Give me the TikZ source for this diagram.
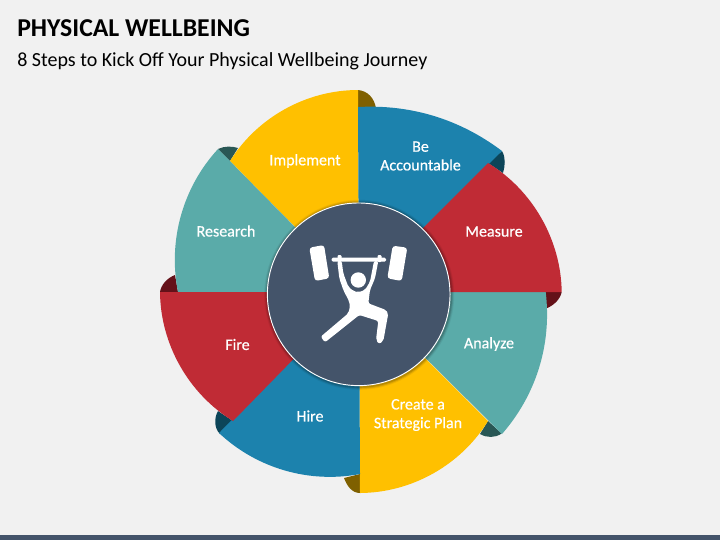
\documentclass[tikz,border=0pt]{standalone}
\usepackage{fontspec}
\setmainfont{Carlito}
\newfontfamily\labelfont[FakeBold=0.5]{Carlito}
\definecolor{pageback}{HTML}{F1F1F1}
\definecolor{slate}{HTML}{44546A}
\definecolor{gold}{HTML}{FFC000}
\definecolor{golddark}{HTML}{7F6000}
\definecolor{ocean}{HTML}{1C82AD}
\definecolor{oceandark}{HTML}{0C4559}
\definecolor{crimson}{HTML}{C02B35}
\definecolor{crimsondark}{HTML}{641119}
\definecolor{teal2}{HTML}{5AABA9}
\definecolor{tealdark}{HTML}{295755}
\tikzset{
  steplabel/.style={text=white, font=\labelfont\fontsize{12}{14}\selectfont, align=center, inner sep=0pt},
  iconpart/.style={fill=white, draw=none}
}

\begin{document}
\begin{tikzpicture}[x=0.75pt, y=-0.75pt]
  \useasboundingbox (0, 0) rectangle (720, 540);
  \fill[pageback] (0, 0) rectangle (720, 540);
  \fill[slate] (0, 535) rectangle (720, 540);

  % titles
  \node[anchor=base west, inner sep=0pt, font=\bfseries\fontsize{19.3}{23}\selectfont] (title) at (17, 36) {PHYSICAL WELLBEING};
  \node[anchor=base west, inner sep=0pt, font=\fontsize{15}{18}\selectfont] (subtitle) at (17, 66) {8 Steps to Kick Off Your Physical Wellbeing Journey};

  % dark tabs behind the petals
  \fill[golddark] (358, 90) .. controls (368, 91) and (374, 98) .. (376, 108) -- (358, 108) -- cycle;
  \fill[oceandark] (502, 151) .. controls (506, 158) and (505, 166) .. (503, 173) -- (488, 163) -- cycle;
  \fill[crimsondark] (561.7, 292) .. controls (560, 300) and (553, 306) .. (545, 309) -- (541, 292) -- cycle;
  \fill[tealdark] (501.7, 433.5) .. controls (495, 438) and (487, 438) .. (480, 434) -- (488, 421) -- cycle;
  \fill[golddark] (360, 493) .. controls (352, 493) and (347, 486) .. (344, 478) -- (360, 474) -- cycle;
  \fill[oceandark] (220, 434) .. controls (214, 428) and (214, 418) .. (218, 411) -- (233, 421) -- cycle;
  \fill[crimsondark] (160, 292) .. controls (161, 285) and (167, 278) .. (175, 275) -- (178, 292) -- cycle;
  \fill[tealdark] (218, 149) .. controls (224, 146) and (232, 146) .. (238, 148) -- (230, 161) -- cycle;

  % petals
  \foreach \xa/\ya/\xb/\yb/\bnd/\col in {
      358/90/230/161/-29/gold,
      358/107/502/151/20/ocean,
      545.7/292/502/434/24/teal2,
      360/493/488/421/-29/gold,
      360/474/219/433/27/ocean,
      178/292/218/149/27/teal2,
      561.7/292/488/163/-29/crimson,
      160/292/233/421/-29/crimson}
    \fill[\col] (359, 292) -- (\xa, \ya) to[bend left=\bnd, looseness=0.9] (\xb, \yb) -- cycle;

  % centre disc
  \foreach \rr/\op in {95/0.06, 94/0.1, 93/0.14}
    \fill[black, opacity=\op] (359.2, 294.8) circle (\rr);
  \node[circle, draw=white, line width=0.7pt, fill=slate, minimum size=137pt, inner sep=0pt] (hub) at (358.7, 294.3) {};

  % lifter icon
  \fill[iconpart, rounded corners=2.2pt] (309.3, 247.7) -- (324, 245) -- (329.3, 278.3) -- (315, 281) -- cycle;
  \fill[iconpart, rounded corners=2.2pt] (392.7, 245.7) -- (407.3, 247.7) -- (401.7, 281) -- (387.3, 278.3) -- cycle;
  \fill[iconpart, rounded corners=1pt] (331.7, 257.7) rectangle (386, 261.7);
  \fill[iconpart, rounded corners=0.8pt] (337.5, 255) rectangle (341.5, 262);
  \fill[iconpart, rounded corners=0.8pt] (377.5, 255) rectangle (381.5, 262);
  \fill[iconpart] (358.3, 280) circle (7.7);
  \fill[iconpart, rounded corners=1.6pt] (337.3, 261) -- (339.3, 278.3) -- (343.3, 290) -- (349.3, 301.7) -- (350, 306.7)
    -- (348.3, 313.3) -- (320.7, 336.7) -- (325, 342.3) -- (359.3, 315) -- (378.3, 321) -- (376, 340) -- (379, 344) -- (383.3, 341)
    -- (388.3, 313.3) -- (386, 310) -- (368.3, 303.3) -- (370, 290) -- (375, 278.3) -- (378.3, 261) -- (374, 261)
    -- (370, 281.7) -- (365, 290) -- (358.3, 292.3) -- (353.3, 291) -- (348.3, 286.7) -- (343.3, 273.3) -- (341.7, 261) -- cycle;

  % step labels
  \node[steplabel] (implement) at (305, 161) {Implement};
  \node[steplabel] (accountable) at (420.5, 156) {Be\\Accountable};
  \node[steplabel] (measure) at (494, 231.5) {Measure};
  \node[steplabel] (analyze) at (489, 344) {Analyze};
  \node[steplabel] (strategic) at (418, 415) {Create a\\Strategic Plan};
  \node[steplabel] (hire) at (310, 416) {Hire};
  \node[steplabel] (fire) at (237.5, 344.5) {Fire};
  \node[steplabel] (research) at (226, 231) {Research};
\end{tikzpicture}
\end{document}
